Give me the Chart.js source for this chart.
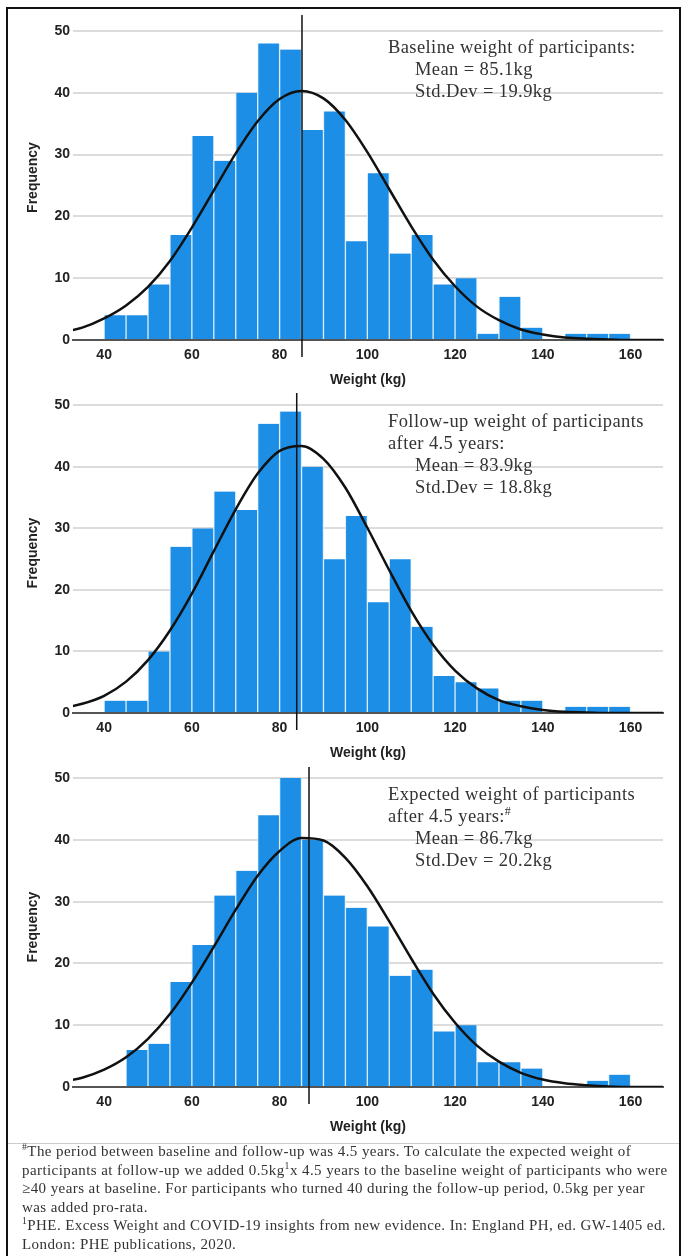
<!DOCTYPE html>
<html>
<head>
<meta charset="utf-8">
<script src="https://cdn.jsdelivr.net/npm/chart.js@4.4.0/dist/chart.umd.min.js"></script>
<style>
  html, body { margin: 0; padding: 0; background: #fff; }
  body { width: 681px; height: 1256px; position: relative; overflow: hidden; }
  .frame { position: absolute; left: 6px; top: 7px; width: 671px; height: 1270px; border: 2px solid #111; border-bottom: none; }
  .panel { position: absolute; left: 0; }
  .note { position: absolute; left: 388px; font-family: 'Liberation Serif', serif; font-size: 18.5px; line-height: 22px; letter-spacing: 0.4px; color: #333; white-space: nowrap; }
  .note .ind { padding-left: 27px; }
  .sep { position: absolute; left: 8px; width: 671px; top: 1143px; border-top: 1px solid #ccc; }
  .foot { position: absolute; left: 22px; top: 1142px; font-family: 'Liberation Serif', serif; font-size: 15px; line-height: 18.6px; letter-spacing: 0.42px; color: #333; white-space: nowrap; }
  sup { font-size: 0.65em; line-height: 0; }
</style>
</head>
<body>
<div class="frame"></div>
<canvas id="baseline" class="panel" style="top:0px" width="681" height="395"></canvas>
<canvas id="followup" class="panel" style="top:378px" width="681" height="390"></canvas>
<canvas id="expected" class="panel" style="top:752px" width="681" height="390"></canvas>

<div class="note" style="top:36px">
  Baseline weight of participants:<br>
  <span class="ind">Mean = 85.1kg</span><br>
  <span class="ind">Std.Dev = 19.9kg</span>
</div>
<div class="note" style="top:410px">
  Follow-up weight of participants<br>
  after 4.5 years:<br>
  <span class="ind">Mean = 83.9kg</span><br>
  <span class="ind">Std.Dev = 18.8kg</span>
</div>
<div class="note" style="top:783px">
  Expected weight of participants<br>
  after 4.5 years:<sup>#</sup><br>
  <span class="ind">Mean = 86.7kg</span><br>
  <span class="ind">Std.Dev = 20.2kg</span>
</div>

<div class="sep"></div>
<div class="foot">
  <sup>#</sup>The period between baseline and follow-up was 4.5 years. To calculate the expected weight of<br>
  participants at follow-up we added 0.5kg<sup>1</sup>x 4.5 years to the baseline weight of participants who were<br>
  ≥40 years at baseline. For participants who turned 40 during the follow-up period, 0.5kg per year<br>
  was added pro-rata.<br>
  <sup>1</sup>PHE. Excess Weight and COVID-19 insights from new evidence. In: England PH, ed. GW-1405 ed.<br>
  London: PHE publications, 2020.
</div>

<script>
// histogram bins (kg, lower edge) and bar heights
const BIN = 5;
const binStarts = [40, 45, 50, 55, 60, 65, 70, 75, 80, 85, 90, 95, 100, 105, 110, 115, 120, 125, 130, 135, 140, 145, 150, 155];
const binStartsExpected = [45, 50, 55, 60, 65, 70, 75, 80, 85, 90, 95, 100, 105, 110, 115, 120, 125, 130, 135, 140, 145, 150, 155];

const baselineCounts = [4, 4, 9, 17, 33, 29, 40, 48, 47, 34, 37, 16, 27, 14, 17, 9, 10, 1, 7, 2, 0, 1, 1, 1];
const followUpCounts = [2, 2, 10, 27, 30, 36, 33, 47, 49, 40, 25, 32, 18, 25, 14, 6, 5, 4, 2, 2, 0, 1, 1, 1];
const expectedCounts = [6, 7, 17, 23, 31, 35, 44, 50, 40, 31, 29, 26, 18, 19, 9, 10, 4, 4, 3, 0, 0, 1, 2];

// fitted normal curves, heights
const curveX = [30, 35, 40, 45, 50, 55, 60, 65, 70, 75, 80, 85, 90, 95, 100, 105, 110, 115, 120, 125, 130, 135, 140, 145, 150, 155, 160, 165, 170];
const baselineCurve = [1.2, 2.0, 3.5, 5.6, 8.6, 12.8, 18.2, 24.2, 30.2, 35.4, 39.0, 40.3, 39.1, 35.6, 30.4, 24.4, 18.4, 13.0, 8.7, 5.4, 3.2, 1.7, 0.9, 0.4, 0.2, 0.1, 0, 0, 0];
const followUpCurve = [0.7, 1.5, 2.8, 5.1, 8.6, 13.4, 19.4, 26.3, 33.1, 38.9, 42.6, 43.4, 41.3, 36.6, 30.1, 23.2, 16.6, 11.1, 6.9, 4.0, 2.1, 1.1, 0.5, 0.2, 0.1, 0, 0, 0, 0];
const expectedCurve = [0.8, 1.5, 2.8, 4.8, 7.8, 11.8, 16.9, 22.7, 28.7, 34.2, 38.2, 40.3, 39.9, 37.1, 32.5, 26.8, 20.8, 15.1, 10.4, 6.7, 4.1, 2.3, 1.2, 0.6, 0.3, 0.1, 0, 0, 0];

const baselineMean = 85.1;
const followUpMean = 83.9;
const expectedMean = 86.7;

const xTicks = [40, 60, 80, 100, 120, 140, 160];
const yTicks = [0, 10, 20, 30, 40, 50];
const xMin = 32.9, xMax = 167.4;

const tickFont = { family: "'Liberation Sans', Arial, sans-serif", size: 14, weight: 'bold' };

// vertical line at the mean, runs a little below the axis
const meanLine = {
  id: 'meanLine',
  afterDatasetsDraw(chart, args, opts) {
    const { ctx, chartArea, scales } = chart;
    const x = scales.x.getPixelForValue(opts.value);
    ctx.save();
    ctx.strokeStyle = '#111';
    ctx.lineWidth = 1.5;
    ctx.beginPath();
    ctx.moveTo(x, chartArea.top);
    ctx.lineTo(x, chartArea.bottom + 17);
    ctx.stroke();
    ctx.restore();
  }
};

function makeHistogram(id, starts, counts, curve, mean, yMax) {
  const ctx = document.getElementById(id).getContext('2d');
  return new Chart(ctx, {
    type: 'bar',
    data: {
      datasets: [{
        type: 'line',
        data: curveX.map((x, i) => ({ x, y: curve[i] })),
        borderColor: '#111',
        borderWidth: 2.5,
        pointRadius: 0,
        cubicInterpolationMode: 'monotone',
        order: 0
      }, {
        type: 'bar',
        data: starts.map((s, i) => ({ x: s + BIN / 2, y: counts[i] })),
        backgroundColor: '#1c8ee6',
        borderColor: '#d6ebfa',
        borderWidth: { left: 1, right: 1, top: 0, bottom: 0 },
        borderSkipped: false,
        barPercentage: 1,
        categoryPercentage: 1,
        order: 1
      }]
    },
    options: {
      responsive: false,
      animation: false,
      layout: { padding: { top: 15, right: 18, left: 0, bottom: 0 } },
      scales: {
        x: {
          type: 'linear', min: xMin, max: xMax, offset: false,
          afterBuildTicks: (s) => { s.ticks = xTicks.map(v => ({ value: v })); },
          afterFit: (s) => { s.height = 55; },
          grid: { display: false, drawTicks: false, offset: false },
          border: { display: true, color: '#555', width: 2 },
          ticks: { font: tickFont, color: '#222', padding: 7, maxRotation: 0 },
          title: { display: true, text: 'Weight (kg)', font: tickFont, color: '#222', padding: { top: 0, bottom: 6 } }
        },
        y: {
          min: 0, max: yMax,
          afterBuildTicks: (s) => { s.ticks = yTicks.map(v => ({ value: v })); },
          afterFit: (s) => { s.width = 73; },
          grid: { color: '#dcdcdc', lineWidth: 2, drawTicks: false },
          border: { display: false },
          ticks: { font: tickFont, color: '#222', padding: 3 },
          title: { display: true, text: 'Frequency', font: tickFont, color: '#222', padding: { top: 25, bottom: 0 } }
        }
      },
      plugins: {
        legend: { display: false },
        tooltip: { enabled: false },
        meanLine: { value: mean }
      }
    },
    plugins: [meanLine]
  });
}

makeHistogram('baseline', binStarts, baselineCounts, baselineCurve, baselineMean, 52.6);
makeHistogram('followup', binStarts, followUpCounts, followUpCurve, followUpMean, 52);
makeHistogram('expected', binStartsExpected, expectedCounts, expectedCurve, expectedMean, 51.8);
</script>
</body>
</html>
